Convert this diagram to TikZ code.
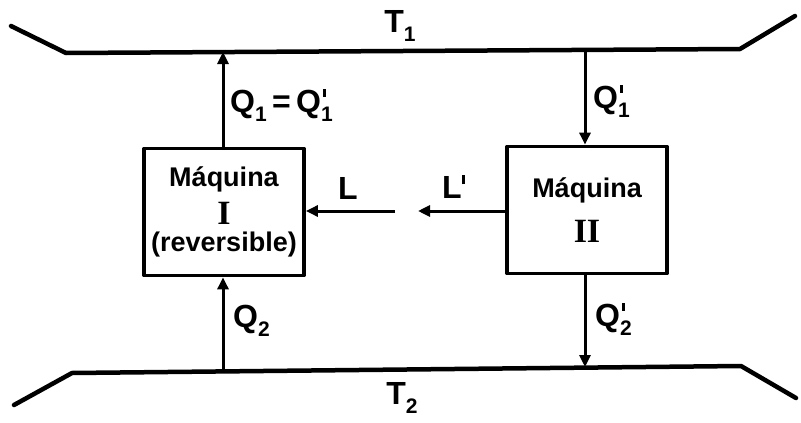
\documentclass[tikz,border=0pt]{standalone}
\usepackage{fontspec}
\setmainfont{Liberation Sans}
\newfontfamily\romfont{Liberation Serif}
\usetikzlibrary{arrows.meta}
\newcommand{\sbx}[1]{\raisebox{-0.28em}{\fontsize{21}{21}\selectfont #1}}
\newcommand{\pr}{\rlap{\kern2pt\raisebox{0.50em}{\rule{3pt}{8pt}}}}
\begin{document}
\begin{tikzpicture}[x=1pt,y=-1pt,line join=round,
  res/.style={line width=4.5pt,line cap=round},
  mach/.style={draw,line width=3.8pt,minimum width=160pt,minimum height=127pt,align=center,inner sep=0pt,
    font=\fontsize{27}{30}\selectfont\bfseries},
  flow/.style={line width=3pt,-{Triangle[length=12pt,width=11pt]}},
  lab/.style={font=\fontsize{32}{34}\selectfont\bfseries,inner sep=0pt}]
\useasboundingbox (0,0) rectangle (801,423);
% reservoirs
\coordinate (t0) at (11,26);
\coordinate (t1) at (66,53);
\coordinate (t2) at (740,49);
\coordinate (t3) at (795,16);
\coordinate (b0) at (14,405);
\coordinate (b1) at (72,373);
\coordinate (b2) at (741,366);
\coordinate (b3) at (796,398);
\draw[res] (t0) -- (t1) -- (t2) -- (t3);
\draw[res] (b0) -- (b1) -- (b2) -- (b3);
\node[lab] (T1) at (400,26) {T\sbx{1}};
\node[lab] (T2) at (402,398) {T\sbx{2}};
% machines
\node[mach] (m1) at (224,212) {M\'aquina\\[8pt]{\romfont\fontsize{34}{34}\selectfont I}\\[-3pt](reversible)};
\node[mach] (m2) at (587,210) {M\'aquina\\[15pt]{\romfont\fontsize{34}{34}\selectfont II}};
% contact points on reservoirs
\coordinate (a1) at (223,52);
\coordinate (a2) at (585,50);
\coordinate (a3) at (223,371);
\coordinate (a4) at (585,367);
\draw[flow] (m1.north -| a1) -- (a1);
\draw[flow] (a2) -- (m2.north -| a2);
\draw[flow] (a3) -- (m1.south -| a3);
\draw[flow] (m2.south -| a4) -- (a4);
% work
\coordinate (l1) at (395,211);
\coordinate (l2) at (418,211);
\draw[flow] (l1) -- (m1.east |- l1);
\draw[flow] (m2.west |- l2) -- (l2);
% labels
\node[lab,anchor=west] (q1) at (230,105) {Q\sbx{1}\,=\,Q\pr\sbx{1}};
\node[lab,anchor=west] (q1p) at (593,101) {Q\pr\sbx{1}};
\node[lab,anchor=west] (q2) at (233,321) {Q\sbx{2}};
\node[lab,anchor=west] (q2p) at (595,319) {Q\pr\sbx{2}};
\node[lab,anchor=west] (L) at (338,188) {L};
\node[lab,anchor=west] (Lp) at (442,187) {L\raisebox{0.45em}{\rule{3pt}{9pt}}};
\end{tikzpicture}
\end{document}
